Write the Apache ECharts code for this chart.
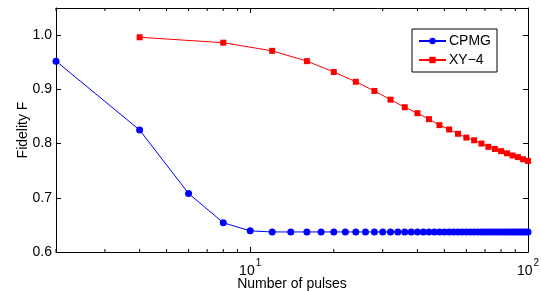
<!DOCTYPE html>
<html>
    <head>
        <meta charset="utf-8">
        <title>Fidelity vs number of pulses</title>
        <script src="https://cdn.jsdelivr.net/npm/echarts@6/dist/echarts.min.js"></script>
        <style>
            html, body { margin: 0; padding: 0; background: #fff; }
            #chart1 { width: 541px; height: 291px; }
        </style>
    </head>
    <body>
        <div id="chart1"></div>
        <script type="text/javascript">
            // 数据
            var cpmgPulses = [2, 4, 6, 8, 10, 12, 14, 16, 18, 20, 22, 24, 26, 28, 30, 32, 34, 36, 38, 40,
                42, 44, 46, 48, 50, 52, 54, 56, 58, 60, 62, 64, 66, 68, 70, 72, 74, 76, 78, 80,
                82, 84, 86, 88, 90, 92, 94, 96, 98, 100];
            var cpmgFidelity = [0.952, 0.825, 0.708, 0.654, 0.639, 0.637, 0.637, 0.637, 0.637, 0.637,
                0.637, 0.637, 0.637, 0.637, 0.637, 0.637, 0.637, 0.637, 0.637, 0.637,
                0.637, 0.637, 0.637, 0.637, 0.637, 0.637, 0.637, 0.637, 0.637, 0.637,
                0.637, 0.637, 0.637, 0.637, 0.637, 0.637, 0.637, 0.637, 0.637, 0.637,
                0.637, 0.637, 0.637, 0.637, 0.637, 0.637, 0.637, 0.637, 0.637, 0.637];
            var xy4Pulses = [4, 8, 12, 16, 20, 24, 28, 32, 36, 40, 44, 48, 52, 56, 60, 64, 68, 72, 76, 80,
                84, 88, 92, 96, 100];
            var xy4Fidelity = [0.996, 0.986, 0.971, 0.952, 0.932, 0.914, 0.897, 0.881, 0.867, 0.856,
                0.845, 0.834, 0.826, 0.818, 0.811, 0.806, 0.800, 0.794, 0.790, 0.786,
                0.782, 0.778, 0.775, 0.771, 0.768];
            var xMinorTicks = [2, 3, 4, 5, 6, 7, 8, 9, 20, 30, 40, 50, 60, 70, 80, 90];
            var yMin = 0.6, yMax = 1.05;

            var FONT = '"Liberation Sans", Arial, sans-serif';

            function pairs(xs, ys) {
                return xs.map(function (x, i) { return [x, ys[i]]; });
            }

            function powLabel(v) {
                var e = Math.log10(v);
                if (Math.abs(e - Math.round(e)) > 1e-6) return '';
                return '{b|10}{sup|' + Math.round(e) + '}';
            }

            var myChart = echarts.init(document.getElementById('chart1'), null, { renderer: 'canvas' });

            var boxAxis = { show: true, lineStyle: { color: '#000', width: 1 } };
            var tickIn = { show: true, inside: true, length: 5, lineStyle: { color: '#000', width: 1 } };

            var option = {
                backgroundColor: '#fff',
                animation: false,
                textStyle: { fontFamily: FONT },
                grid: { left: 56, right: 13, top: 8, bottom: 39, containLabel: false, outerBoundsMode: 'none' },
                legend: {
                    data: ['CPMG', 'XY−4'],
                    orient: 'vertical',
                    right: 44,
                    top: 29,
                    padding: [5, 6, 5, 6],
                    itemGap: 5,
                    itemWidth: 27,
                    itemHeight: 8,
                    borderColor: '#000',
                    borderWidth: 1,
                    backgroundColor: '#fff',
                    textStyle: { fontSize: 14, color: '#000', fontFamily: FONT, padding: [0, 0, 0, -2] }
                },
                xAxis: [{
                    type: 'log',
                    logBase: 10,
                    min: 2,
                    max: 100,
                    position: 'bottom',
                    name: 'Number of pulses',
                    nameLocation: 'middle',
                    nameGap: 25,
                    nameMoveOverlap: false,
                    nameTextStyle: { fontSize: 14, color: '#000', fontFamily: FONT },
                    axisLine: boxAxis,
                    axisTick: tickIn,
                    splitLine: { show: false },
                    axisLabel: {
                        margin: 6,
                        color: '#000',
                        formatter: powLabel,
                        rich: {
                            b: { fontSize: 14, fontFamily: FONT, color: '#000', lineHeight: 20, verticalAlign: 'bottom' },
                            sup: { fontSize: 10, fontFamily: FONT, color: '#000', lineHeight: 20, verticalAlign: 'top', padding: [0, 0, 0, 1] }
                        }
                    }
                }, {
                    type: 'log',
                    logBase: 10,
                    min: 2,
                    max: 100,
                    position: 'top',
                    axisLine: boxAxis,
                    axisTick: tickIn,
                    axisLabel: { show: false },
                    splitLine: { show: false }
                }],
                yAxis: [{
                    type: 'value',
                    min: yMin,
                    max: yMax,
                    interval: 0.1,
                    position: 'left',
                    name: 'Fidelity F',
                    nameLocation: 'middle',
                    nameGap: 26,
                    nameMoveOverlap: false,
                    nameTextStyle: { fontSize: 14, color: '#000', fontFamily: FONT },
                    axisLine: boxAxis,
                    axisTick: tickIn,
                    splitLine: { show: false },
                    axisLabel: {
                        fontSize: 14,
                        color: '#000',
                        margin: 4,
                        showMaxLabel: false,
                        formatter: function (v) { return v.toFixed(1); }
                    }
                }, {
                    type: 'value',
                    min: yMin,
                    max: yMax,
                    interval: 0.1,
                    position: 'right',
                    axisLine: boxAxis,
                    axisTick: tickIn,
                    axisLabel: { show: false },
                    splitLine: { show: false }
                }],
                series: [{
                    name: 'CPMG',
                    type: 'line',
                    data: pairs(cpmgPulses, cpmgFidelity),
                    symbol: 'circle',
                    symbolSize: 7,
                    lineStyle: { color: '#0000ff', width: 1 },
                    itemStyle: { color: '#0000ff' },
                    z: 3
                }, {
                    name: 'XY−4',
                    type: 'line',
                    data: pairs(xy4Pulses, xy4Fidelity),
                    symbol: 'rect',
                    symbolSize: 6,
                    lineStyle: { color: '#ff0000', width: 1 },
                    itemStyle: { color: '#ff0000' },
                    z: 3
                }, {
                    // 对数坐标的次刻度（上下两边，向内）
                    type: 'custom',
                    silent: true,
                    data: xMinorTicks.map(function (v) { return [v]; }),
                    encode: { x: 0 },
                    renderItem: function (params, api) {
                        var v = api.value(0);
                        var b = api.coord([v, yMin]);
                        var t = api.coord([v, yMax]);
                        var st = { stroke: '#000', lineWidth: 1 };
                        return {
                            type: 'group',
                            children: [
                                { type: 'line', shape: { x1: b[0], y1: b[1], x2: b[0], y2: b[1] - 3 }, style: st },
                                { type: 'line', shape: { x1: t[0], y1: t[1], x2: t[0], y2: t[1] + 3 }, style: st }
                            ]
                        };
                    }
                }]
            };
            myChart.setOption(option);
        </script>
    </body>
</html>
